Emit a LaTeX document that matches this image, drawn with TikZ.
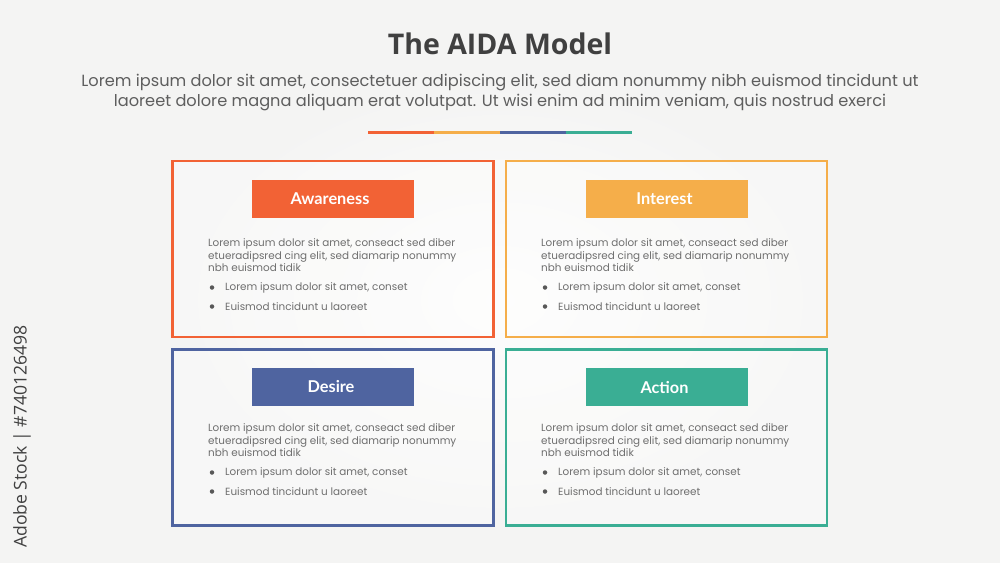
\documentclass[tikz,border=0pt]{standalone}
\usepackage{fontspec}
\setmainfont{Poppins}
\newfontfamily\titlefont{Open Sans}
\newfontfamily\labelfont{Lato}
\definecolor{bgc}{HTML}{F4F4F3}
\definecolor{ora}{HTML}{F26235}
\definecolor{yel}{HTML}{F5AE4A}
\definecolor{blu}{HTML}{4F64A0}
\definecolor{tea}{HTML}{3AAE94}
\definecolor{txt}{HTML}{6E6E6E}
\definecolor{ttl}{HTML}{404040}
\tikzset{
  frame/.style={draw=#1, line width=2.4pt, fill=white, fill opacity=0.35, text opacity=1},
  tag/.style={fill=#1, minimum width=162pt, minimum height=38pt, inner sep=0pt, text=white, font=\labelfont\bfseries\fontsize{16.3}{18}\selectfont},
  para/.style={anchor=north west, inner sep=0pt, text=txt, align=left, font=\fontsize{10.4}{12.6}\selectfont},
  bul/.style={anchor=west, inner sep=0pt, text=txt, font=\fontsize{10.4}{12}\selectfont},
  dot/.style={circle, fill=txt!80!black, inner sep=0pt, minimum size=4.5pt},
}
\begin{document}
\begin{tikzpicture}[x=1pt,y=-1pt]
\useasboundingbox (0,0) rectangle (1000,563);
\fill[bgc] (0,0) rectangle (1000,563);
\shade[inner color=white, outer color=bgc, opacity=0.8] (150,60) rectangle (850,540);
% title
\node[font=\titlefont\bfseries\fontsize{28.5}{32}\selectfont, text=ttl] (title) at (500,44) {The AIDA Model};
\node[font=\fontsize{16.2}{20}\selectfont, text=txt!85!black, align=center] (sub) at (500,93) {Lorem ipsum dolor sit amet, consectetuer adipiscing elit, sed diam nonummy nibh euismod tincidunt ut\\laoreet dolore magna aliquam erat volutpat. Ut wisi enim ad minim veniam, quis nostrud exerci};
% colour bar
\fill[ora] (368,130.5) rectangle (434,133.5);
\fill[yel] (434,130.5) rectangle (500,133.5);
\fill[blu] (500,130.5) rectangle (566,133.5);
\fill[tea] (566,130.5) rectangle (632,133.5);
% frames
\node[frame=ora, minimum width=321pt, minimum height=176pt, inner sep=0pt] (fA) at (333,249) {};
\node[frame=yel, minimum width=321pt, minimum height=176pt, inner sep=0pt] (fI) at (666.5,249) {};
\node[frame=blu, minimum width=321pt, minimum height=176pt, inner sep=0pt] (fD) at (333,437.5) {};
\node[frame=tea, minimum width=321pt, minimum height=176pt, inner sep=0pt] (fC) at (666.5,437.5) {};
% tags
\node[tag=ora] (tA) at (333,198.5) {\hspace*{-6pt}Awareness};
\node[tag=yel] (tI) at (666.5,198.5) {\hspace*{-4pt}Interest};
\node[tag=blu] (tD) at (333,387) {\hspace*{-4pt}Desire};
\node[tag=tea] (tC) at (666.5,387) {\hspace*{-4pt}Action};
% texts
\foreach \nm/\x/\y in {A/208/238.5, I/541/238.5, D/208/423.5, C/541/423.5}{
  \node[para] (p\nm) at (\x,\y) {Lorem ipsum dolor sit amet, conseact sed diber\\etueradipsred cing elit, sed diamarip nonummy\\nbh euismod tidik};
  \node[dot] (d1\nm) at (\x+4,\y+49) {};
  \node[bul] (b1\nm) at (\x+17,\y+49) {Lorem ipsum dolor sit amet, conset};
  \node[dot] (d2\nm) at (\x+4,\y+68) {};
  \node[bul] (b2\nm) at (\x+17,\y+68) {Euismod tincidunt u laoreet};
}
% side text
\node[rotate=90, font=\titlefont\fontsize{17.6}{20}\selectfont, text=ttl] (side) at (22,436.5) {Adobe Stock | \#740126498};
\end{tikzpicture}
\end{document}
